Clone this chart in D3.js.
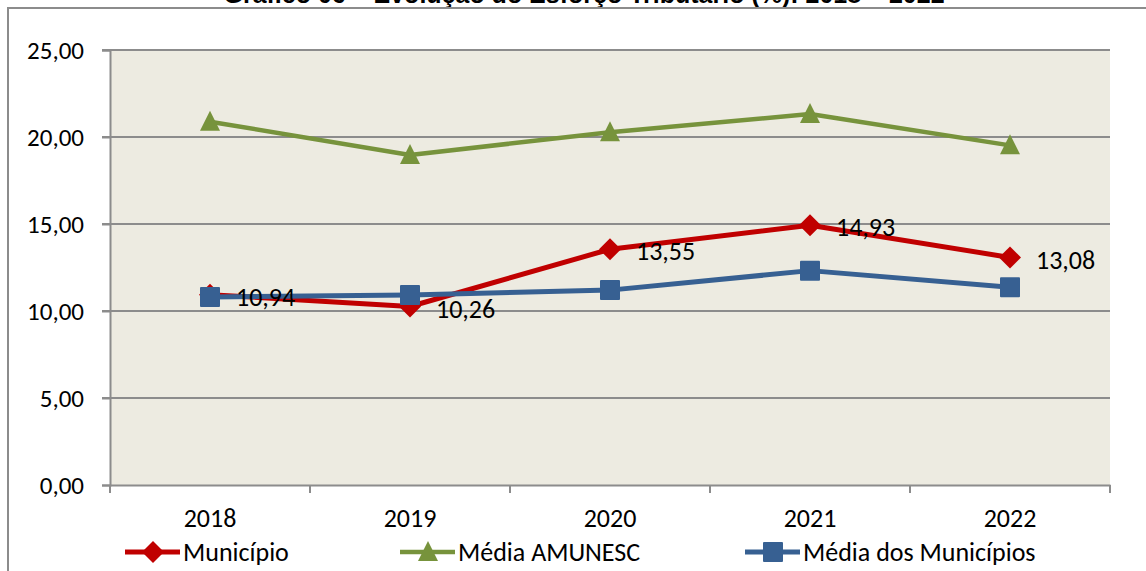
<!DOCTYPE html>
<html>
<head>
<meta charset="utf-8">
<script src="https://cdn.jsdelivr.net/npm/d3@7"></script>
<style>
  body { margin: 0; background: #fff; }
  svg { display: block; }
  text { font-family: Carlito, Calibri, Lato, sans-serif; }
</style>
</head>
<body>
<svg width="1146" height="571"></svg>
<script>
const years = ['2018', '2019', '2020', '2021', '2022'];
const municipio = [10.94, 10.26, 13.55, 14.93, 13.08];
const mediaAmunesc = [20.88, 18.97, 20.27, 21.32, 19.52];
const mediaMunicipios = [10.80, 10.92, 11.20, 12.32, 11.36];
const yTicks = [0, 5, 10, 15, 20, 25];

const series = [
  { name: 'Município', values: municipio, color: '#C00000', shape: 'diamond', width: 5 },
  { name: 'Média AMUNESC', values: mediaAmunesc, color: '#77933C', shape: 'triangle', width: 4.5 },
  { name: 'Média dos Municípios', values: mediaMunicipios, color: '#376092', shape: 'square', width: 5 }
];

const svg = d3.select('svg');
const margin = { left: 110, right: 36, top: 50, bottom: 86 };
const W = 1146, H = 571;

// title, mostly cut off at the top of the image
svg.append('text')
  .attr('x', 584).attr('y', 3)
  .attr('text-anchor', 'middle')
  .style('font-family', 'Arial, "Liberation Sans", sans-serif')
  .style('font-weight', 'bold')
  .style('font-size', '25px')
  .text('Gráfico 06 – Evolução do Esforço Tributário (%): 2018 – 2022');

// frame
svg.append('path')
  .attr('d', 'M8,571 L8,8 L1146,8')
  .attr('fill', 'none').attr('stroke', '#8c8c8c').attr('stroke-width', 2);

const x = d3.scaleBand().domain(years).range([margin.left, W - margin.right]);
const y = d3.scaleLinear().domain([0, 25]).range([H - margin.bottom, margin.top]);

svg.append('rect')
  .attr('x', margin.left).attr('y', margin.top)
  .attr('width', x.range()[1] - margin.left)
  .attr('height', y(0) - margin.top)
  .attr('fill', '#EDEBE1');

// gridlines
svg.append('g').selectAll('line').data(yTicks.filter(d => d > 0)).join('line')
  .attr('x1', margin.left - 8).attr('x2', x.range()[1])
  .attr('y1', d => y(d)).attr('y2', d => y(d))
  .attr('stroke', '#8c8c8c').attr('stroke-width', 2);

// y axis
const yAxis = svg.append('g')
  .attr('transform', `translate(${margin.left},0)`)
  .call(d3.axisLeft(y).tickValues(yTicks).tickSize(8).tickPadding(18)
    .tickFormat(d => d3.format('.2f')(d).replace('.', ',')));
yAxis.select('.domain').attr('stroke', '#8c8c8c').attr('stroke-width', 2);
yAxis.selectAll('.tick line').attr('stroke', '#8c8c8c').attr('stroke-width', 2);
yAxis.selectAll('text').style('font-size', '25px').attr('fill', '#000');

// x axis
const xAxis = svg.append('g')
  .attr('transform', `translate(0,${y(0)})`)
  .call(d3.axisBottom(x).tickSize(0).tickPadding(24));
xAxis.select('.domain').attr('stroke', '#8c8c8c').attr('stroke-width', 2);
xAxis.selectAll('text').style('font-size', '26px').attr('fill', '#000');
const bounds = years.map(d => x(d)).concat([x.range()[1]]);
xAxis.selectAll('.bound').data(bounds).join('line')
  .attr('class', 'bound')
  .attr('x1', d => d).attr('x2', d => d)
  .attr('y1', 0).attr('y2', 8)
  .attr('stroke', '#8c8c8c').attr('stroke-width', 2);

const cx = d => x(d) + x.bandwidth() / 2;

function marker(g, shape, color, px, py) {
  if (shape === 'diamond') {
    g.append('path').attr('d', `M${px},${py - 11} L${px + 11},${py} L${px},${py + 11} L${px - 11},${py} Z`).attr('fill', color);
  } else if (shape === 'triangle') {
    g.append('path').attr('d', `M${px},${py - 10} L${px + 10},${py + 10} L${px - 10},${py + 10} Z`).attr('fill', color);
  } else {
    g.append('rect').attr('x', px - 10).attr('y', py - 10).attr('width', 20).attr('height', 20).attr('rx', 1).attr('fill', color);
  }
}

const line = d3.line().x((d, i) => cx(years[i])).y(d => y(d));

// green first, then red, then blue on top
[series[1], series[0], series[2]].forEach(s => {
  const g = svg.append('g');
  g.append('path').datum(s.values)
    .attr('d', line)
    .attr('fill', 'none')
    .attr('stroke', s.color)
    .attr('stroke-width', s.width)
    .attr('stroke-linejoin', 'round');
  s.values.forEach((v, i) => marker(g, s.shape, s.color, cx(years[i]), s.shape === 'triangle' ? y(v) - 1 : y(v)));
});

// data labels for Município
svg.append('g').selectAll('text').data(municipio).join('text')
  .attr('x', (d, i) => cx(years[i]) + 26)
  .attr('y', d => y(d) + 2)
  .attr('dy', '0.35em')
  .style('font-size', '26px')
  .text(d => d3.format('.2f')(d).replace('.', ','));

// legend
const legendX = [125, 400, 745];
const legend = svg.append('g');
series.forEach((s, i) => {
  const lx = legendX[i], ly = 552;
  legend.append('line')
    .attr('x1', lx).attr('x2', lx + 55)
    .attr('y1', ly).attr('y2', ly)
    .attr('stroke', s.color).attr('stroke-width', s.width);
  const g = legend.append('g');
  marker(g, s.shape, s.color, lx + 28, s.shape === 'triangle' ? ly - 1 : ly);
  legend.append('text')
    .attr('x', lx + 58).attr('y', ly).attr('dy', '0.35em')
    .style('font-size', '26px')
    .text(s.name);
});
</script>
</body>
</html>
